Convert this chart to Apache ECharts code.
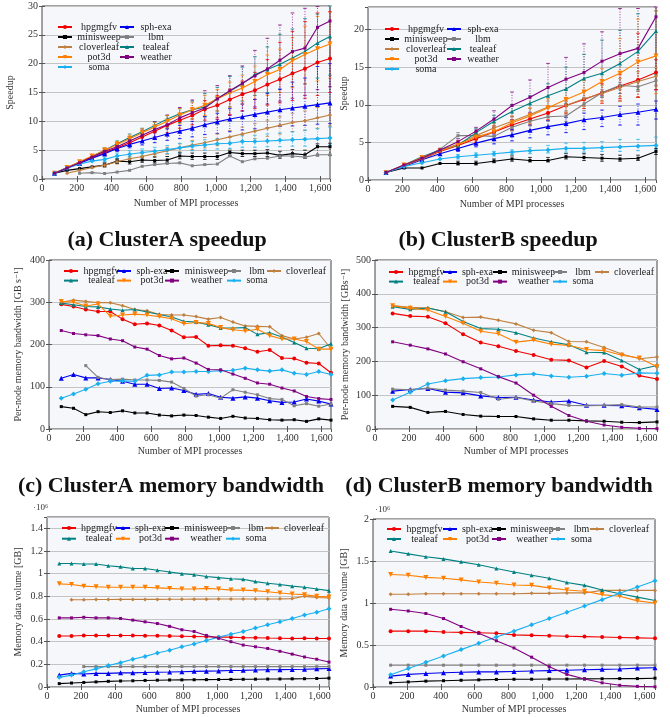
<!DOCTYPE html>
<html><head><meta charset="utf-8">
<script src="https://cdn.jsdelivr.net/npm/echarts@6/dist/echarts.min.js"></script>
<style>html,body{margin:0;padding:0;background:#fff}#c{width:670px;height:717px}</style>
</head><body><div id="c"></div>
<script>
// ---------- data ----------
const xA = [72,144,216,288,360,432,504,576,648,720,792,864,936,1008,1080,1152,1224,1296,1368,1440,1512,1584,1656];
const xB = [104,208,312,416,520,624,728,832,936,1040,1144,1248,1352,1456,1560,1664];
const names = ['hpgmgfv','sph-exa','minisweep','lbm','cloverleaf','tealeaf','pot3d','weather','soma'];

// (a) ClusterA speedup
const spA_hpgmgfv   = [1,1.9,2.8,3.7,4.6,5.4,6.3,7.3,8.3,9.3,10.2,11.0,12.1,12.8,13.8,14.7,15.4,16.4,17.3,18.3,19.1,20.2,20.9];
const spA_sphexa    = [1,1.9,2.7,3.6,4.4,5.3,6.0,6.6,7.2,7.8,8.3,8.8,9.4,9.9,10.4,10.8,11.2,11.6,12.0,12.3,12.6,12.9,13.2];
const spA_minisweep = [1,1.5,1.8,2.1,2.4,3.1,3.0,3.3,3.2,3.3,4.0,3.9,3.9,3.9,4.6,4.4,4.4,4.5,4.1,4.4,4.2,5.6,5.6];
const spA_lbm       = [null,null,1.0,1.1,0.95,1.2,1.5,2.2,2.5,2.7,2.8,2.3,2.5,2.6,4.0,3.0,3.5,3.6,4.0,4.0,3.8,4.2,4.2];
const spA_cloverleaf= [null,1.0,1.5,2.0,2.4,3.0,3.5,3.9,4.4,4.9,5.4,5.9,6.3,6.8,7.3,7.8,8.3,8.8,9.3,9.8,10.1,10.6,11.1];
const spA_tealeaf   = [1,2.0,2.9,3.9,5.0,6.1,7.2,8.2,9.3,10.4,11.3,12.0,12.5,14.0,15.2,16.5,18.1,19.0,19.9,21.0,22.1,23.6,24.7];
const spA_pot3d     = [1,2.0,3.0,4.0,5.0,6.0,7.0,8.0,9.0,10.0,11.1,12.0,12.8,13.9,14.9,15.8,16.9,18.1,19.0,20.5,21.6,22.6,23.4];
const spA_weather   = [1,1.9,2.8,3.8,4.8,5.6,6.6,7.6,8.6,9.4,10.6,11.5,12.3,13.9,15.3,16.6,17.9,19.1,20.6,22.1,22.7,26.3,27.4];
const spA_soma      = [1,1.85,2.6,3.1,3.4,4.0,4.3,4.6,4.8,5.1,5.4,5.7,5.9,6.1,6.2,6.5,6.5,6.6,6.7,6.8,6.9,7.0,7.1];
// (a) error bars (min / max)
const erA_weather_hi   = [null,null,null,null,5.3,6.2,7.3,8.5,9.96,11.1,12.4,13.7,15.3,16.2,17.9,19.6,22.3,24.4,26.7,28.8,29.6,29.9,31];
const erA_weather_lo   = [null,null,null,null,4.3,5.0,5.8,6.5,7.0,7.5,8.2,9.0,9.4,10.3,11.0,11.8,12.5,13.0,13.5,14.0,14.5,15.5,16];
const erA_tealeaf_hi   = [null,null,null,null,5.4,6.6,7.8,8.8,9.9,11.0,12.2,13.5,14.8,15.9,17.8,19.4,21.2,22.9,25.1,26.0,27.8,28.6,30];
const erA_tealeaf_lo   = [null,null,null,null,4.6,5.6,6.5,7.4,8.2,9.0,9.8,10.4,10.8,11.8,12.5,13.5,14.5,15.0,15.5,16.0,16.5,17.5,18];
const erA_pot3d_hi     = [null,null,null,null,5.4,6.5,7.6,8.7,9.8,11.0,12.2,13.3,14.5,15.5,16.8,18.0,19.6,21.5,22.5,24.5,26.5,28.2,29];
const erA_pot3d_lo     = [null,null,null,null,4.6,5.5,6.4,7.2,8.0,8.8,9.6,10.4,11.0,11.8,12.5,13.0,13.8,14.5,15.0,15.8,16.5,17.0,17.5];
const erA_hpgmgfv_hi   = [null,null,null,null,5.0,5.9,6.9,8.0,9.0,10.1,11.2,12.3,13.6,14.5,15.6,17.0,18.5,20.7,23.7,25.6,27.3,28.8,29];
const erA_hpgmgfv_lo   = [null,null,null,null,4.2,4.9,5.7,6.5,7.3,8.0,8.8,9.4,10.2,10.6,11.2,11.8,12.2,12.8,13.2,13.6,14.0,14.5,15.0];
const erA_sphexa_hi    = [null,null,null,null,4.8,5.8,6.7,7.3,8.0,8.7,9.3,10.0,10.8,11.4,12.2,13.0,13.8,14.8,15.6,16.8,17.5,19.5,20];
const erA_sphexa_lo    = [null,null,null,null,4.0,4.8,5.4,5.9,6.3,6.7,7.0,7.3,7.7,7.9,8.2,8.5,8.7,8.9,9.1,9.2,9.3,9.5,9.6];
const erA_cloverleaf_hi= [null,null,null,null,2.7,3.4,3.9,4.4,4.9,5.5,6.1,6.7,7.2,7.8,8.4,9.0,9.6,10.2,10.8,11.4,11.8,12.4,13];
const erA_cloverleaf_lo= [null,null,null,null,2.1,2.6,3.1,3.4,3.9,4.3,4.7,5.1,5.4,5.8,6.2,6.6,7.0,7.4,7.8,8.2,8.4,8.8,9.2];
const erA_soma_hi      = [null,null,null,null,3.8,4.5,4.9,5.2,5.5,5.8,6.2,6.5,6.8,7.0,7.2,7.5,7.6,7.8,8.0,8.2,8.5,8.7,9.0];
const erA_soma_lo      = [null,null,null,null,3.0,3.5,3.8,4.0,4.2,4.4,4.6,4.9,5.0,5.2,5.3,5.5,5.5,5.6,5.6,5.7,5.7,5.8,5.9];
const erA_minisweep_hi = [null,null,null,null,2.8,3.5,3.5,3.8,3.8,3.9,4.5,4.5,4.5,4.5,5.0,5.0,5.0,5.1,4.8,5.1,5.0,6.1,6.2];
const erA_minisweep_lo = [null,null,null,null,2.1,2.7,2.6,2.9,2.8,2.9,3.5,3.4,3.4,3.4,4.1,3.9,3.9,3.9,3.6,3.8,3.6,4.0,4.1];

// (b) ClusterB speedup
const spB_hpgmgfv   = [1,1.9,2.8,3.8,4.6,5.5,6.4,7.3,8.1,8.9,9.9,10.7,11.6,12.5,13.3,14.3];
const spB_sphexa    = [1,1.8,2.7,3.5,4.2,4.9,5.5,6.0,6.6,7.1,7.5,8.0,8.3,8.7,9.0,9.4];
const spB_minisweep = [1,1.6,1.6,2.2,2.2,2.2,2.5,2.8,2.6,2.6,3.1,3.0,2.9,2.8,2.9,3.8];
const spB_lbm       = [1,1.9,2.9,4.1,5.9,5.9,5.8,7.0,7.8,8.4,8.5,10.1,11.6,12.6,12.4,13.2];
const spB_cloverleaf= [1,1.9,2.8,3.9,4.8,5.9,6.9,7.8,8.7,9.7,9.9,10.8,11.5,12.3,13.1,13.8];
const spB_tealeaf   = [1,2.0,3.1,4.0,4.6,6.3,7.8,9.1,10.2,11.2,12.1,13.5,14.2,15.5,17.1,19.8];
const spB_pot3d     = [1,2.0,3.0,3.9,4.7,5.7,6.4,7.6,8.5,9.6,10.7,11.7,13.1,14.2,15.7,16.5];
const spB_weather   = [1,2.0,2.9,4.0,5.1,6.5,8.1,9.9,11.0,12.3,13.4,14.3,15.8,16.8,17.5,21.7];
const spB_soma      = [1,1.8,2.3,2.8,3.1,3.3,3.5,3.7,3.9,4.0,4.2,4.2,4.3,4.4,4.5,4.6];
// (b) error bars (min / max)
const erB_weather_hi   = [null,null,null,null,5.5,7.0,9.2,11.7,13.3,15.5,16.3,18.1,19.7,22.8,22.8,23];
const erB_weather_lo   = [null,null,null,null,4.7,6.0,7.2,8.4,9.0,9.8,10.5,10.8,11.2,10.5,11.0,12.0];
const erB_tealeaf_hi   = [null,null,null,null,5.0,6.8,8.6,10.0,11.2,12.8,15.0,16.7,18.6,19.9,22.1,22.5];
const erB_tealeaf_lo   = [null,null,null,null,4.2,5.8,7.0,8.0,8.8,9.6,10.2,10.8,11.0,11.5,12.0,14.0];
const erB_pot3d_hi     = [null,null,null,null,5.1,6.2,7.2,8.5,9.6,10.8,12.0,13.2,14.8,18.8,21.4,22.5];
const erB_pot3d_lo     = [null,null,null,null,4.3,5.2,5.8,6.8,7.5,8.3,9.0,9.8,10.5,10.5,11.0,11.5];
const erB_hpgmgfv_hi   = [null,null,null,null,5.0,6.0,7.0,8.0,8.8,9.8,10.9,11.8,12.8,14.0,19.5,16.0];
const erB_hpgmgfv_lo   = [null,null,null,null,4.2,5.0,5.8,6.6,7.3,8.0,8.8,9.5,10.2,10.8,11.0,12.0];
const erB_cloverleaf_hi= [null,null,null,null,5.2,6.4,7.5,8.5,9.5,10.5,10.8,11.8,12.6,13.5,14.4,15.0];
const erB_cloverleaf_lo= [null,null,null,null,4.4,5.4,6.3,7.1,7.9,8.8,9.0,9.8,10.5,11.1,11.8,12.5];
const erB_sphexa_hi    = [null,null,null,null,4.6,5.4,6.1,6.7,7.3,7.9,8.3,8.9,9.3,9.8,10.1,10.5];
const erB_sphexa_lo    = [null,null,null,null,3.8,4.4,4.8,5.2,5.6,6.0,6.3,6.7,7.1,7.3,7.3,8.1];
const erB_soma_hi      = [null,null,null,null,3.4,3.6,3.8,4.0,4.3,4.6,4.9,5.0,5.1,5.4,5.4,5.7];
const erB_soma_lo      = [null,null,null,null,2.8,3.0,3.2,3.4,3.5,3.6,3.7,3.7,3.8,3.8,3.9,4.0];
const erB_lbm_hi       = [null,null,null,4.2,6.3,6.3,6.2,7.6,8.4,9.0,9.2,11.0,12.0,13.0,13.0,13.8];
const erB_lbm_lo       = [null,null,null,3.8,5.5,5.5,5.4,6.5,7.2,7.8,7.8,9.2,11.0,12.0,11.8,12.6];
const erB_minisweep_hi = [null,null,null,null,2.5,2.5,2.8,3.2,3.0,3.0,3.5,3.5,3.4,3.3,3.3,4.2];
const erB_minisweep_lo = [null,null,null,null,2.0,2.0,2.3,2.5,2.4,2.4,2.8,2.6,2.5,2.5,2.6,3.4];

// (c) ClusterA per-node memory bandwidth [GB/s]
const bwA_hpgmgfv   = [295,290,283,278,278,260,248,250,245,233,217,218,197,198,197,191,183,187,168,167,157,155,133];
const bwA_sphexa    = [120,129,121,121,117,113,106,106,96,97,91,82,84,75,73,76,73,67,63,64,71,66,59];
const bwA_minisweep = [53,49,34,41,39,43,38,38,33,31,33,32,28,25,30,26,25,22,21,22,18,24,21];
const bwA_lbm       = [null,null,150,122,117,118,116,116,115,111,96,78,81,73,93,87,81,72,70,55,60,54,59];
const bwA_cloverleaf= [300,305,302,299,299,292,283,280,271,270,270,266,260,264,253,244,243,242,221,213,217,226,190];
const bwA_tealeaf   = [298,294,290,289,284,281,283,277,271,265,255,253,247,239,239,240,224,228,218,205,191,190,202];
const bwA_pot3d     = [302,300,291,296,267,270,272,270,266,261,249,252,250,240,235,232,236,221,213,213,207,189,189];
const bwA_weather   = [233,226,223,221,213,209,194,189,174,166,168,156,141,140,130,120,109,106,97,90,77,72,70];
const bwA_soma      = [73,83,94,107,113,114,113,127,128,135,135,136,136,138,139,144,140,137,140,132,129,136,129];

// (d) ClusterB per-node memory bandwidth [GB/s]
const bwB_hpgmgfv   = [342,334,332,313,280,256,245,231,219,205,203,182,201,185,158,148];
const bwB_sphexa    = [112,117,120,109,107,98,93,94,86,80,83,70,70,69,63,58];
const bwB_minisweep = [67,64,49,52,43,38,37,37,30,26,26,24,23,20,19,21];
const bwB_lbm       = [118,116,121,115,112,108,88,93,83,75,70,69,70,72,65,65];
const bwB_cloverleaf= [365,360,358,347,330,331,322,311,292,285,259,258,241,222,208,213];
const bwB_tealeaf   = [362,354,358,347,318,297,295,285,269,258,249,227,226,203,176,188];
const bwB_pot3d     = [365,357,352,333,313,289,282,257,263,251,247,235,232,218,210,184];
const bwB_weather   = [258,248,237,222,199,178,155,136,100,67,40,23,12,5,2,1];
const bwB_soma      = [86,109,133,143,149,152,154,160,163,157,153,156,164,159,166,165];

// (e) ClusterA memory data volume [10^6 GB]
const dvA_hpgmgfv   = [0.45,0.45,0.455,0.455,0.455,0.455,0.455,0.453,0.452,0.45,0.448,0.446,0.444,0.44,0.44,0.435,0.435,0.432,0.43,0.428,0.43,0.428,0.428];
const dvA_sphexa    = [0.105,0.12,0.115,0.12,0.12,0.125,0.125,0.128,0.13,0.132,0.135,0.138,0.14,0.142,0.145,0.147,0.15,0.152,0.153,0.155,0.157,0.16,0.163];
const dvA_minisweep = [0.03,0.035,0.04,0.045,0.05,0.053,0.055,0.058,0.06,0.062,0.063,0.064,0.065,0.066,0.067,0.068,0.069,0.07,0.071,0.072,0.073,0.075,0.078];
const dvA_lbm       = [null,null,0.18,0.18,0.18,0.18,0.18,0.18,0.18,0.18,0.18,0.18,0.18,0.18,0.18,0.18,0.18,0.18,0.18,0.18,0.18,0.18,0.18];
const dvA_cloverleaf= [null,0.77,0.77,0.772,0.772,0.773,0.773,0.773,0.773,0.774,0.774,0.775,0.775,0.776,0.776,0.776,0.777,0.777,0.778,0.78,0.80,0.79,0.785];
const dvA_tealeaf   = [1.09,1.09,1.085,1.085,1.07,1.06,1.045,1.045,1.03,1.015,1.0,0.99,0.975,0.965,0.955,0.95,0.93,0.915,0.905,0.89,0.88,0.865,0.85];
const dvA_pot3d     = [0.91,0.905,0.89,0.885,0.88,0.88,0.88,0.88,0.875,0.87,0.865,0.865,0.87,0.865,0.855,0.855,0.85,0.84,0.83,0.82,0.815,0.8,0.795];
const dvA_weather   = [0.61,0.61,0.615,0.61,0.61,0.605,0.59,0.575,0.56,0.535,0.505,0.49,0.455,0.43,0.40,0.37,0.355,0.34,0.315,0.29,0.265,0.245,0.22];
const dvA_soma      = [0.085,0.105,0.135,0.16,0.19,0.215,0.245,0.27,0.3,0.325,0.355,0.38,0.41,0.44,0.465,0.49,0.52,0.55,0.575,0.605,0.635,0.66,0.69];

// (f) ClusterB memory data volume [10^6 GB]
const dvB_hpgmgfv   = [0.665,0.665,0.665,0.655,0.65,0.645,0.64,0.62,0.615,0.61,0.605,0.6,0.595,0.59,0.585,0.58];
const dvB_sphexa    = [0.13,0.15,0.16,0.17,0.175,0.18,0.18,0.185,0.19,0.195,0.2,0.205,0.21,0.215,0.225,0.23];
const dvB_minisweep = [0.05,0.06,0.07,0.075,0.08,0.085,0.09,0.092,0.093,0.095,0.095,0.097,0.098,0.1,0.1,0.105];
const dvB_lbm       = [0.26,0.26,0.26,0.26,0.26,0.26,0.26,0.26,0.26,0.26,0.26,0.26,0.26,0.26,0.26,0.26];
const dvB_cloverleaf= [1.105,1.105,1.11,1.11,1.11,1.11,1.11,1.11,1.115,1.115,1.12,1.12,1.15,1.15,1.15,1.15];
const dvB_tealeaf   = [1.62,1.585,1.55,1.525,1.49,1.455,1.41,1.37,1.33,1.295,1.245,1.21,1.155,1.11,1.07,1.03];
const dvB_pot3d     = [1.34,1.33,1.305,1.295,1.275,1.25,1.235,1.215,1.21,1.18,1.155,1.14,1.1,1.08,1.025,1.0];
const dvB_weather   = [0.925,0.905,0.875,0.815,0.72,0.64,0.55,0.465,0.355,0.24,0.15,0.095,0.05,0.02,0.008,0.002];
const dvB_soma      = [0.145,0.22,0.295,0.37,0.445,0.52,0.595,0.665,0.74,0.815,0.89,0.965,1.04,1.115,1.19,1.265];

const captions = ['(a) ClusterA speedup','(b) ClusterB speedup','(c) ClusterA memory bandwidth','(d) ClusterB memory bandwidth'];
const yNames = ['Speedup','Speedup','Per-node memory bandwidth [GB s\u207B\u00B9]','Per-node memory bandwidth [GBs\u207B\u00B9]','Memory data volume [GB]','Memory data volume [GB]'];
const xName = 'Number of MPI processes';
const scaleNote = '\u00B710\u2076';

// ---------- styles / layout ----------
const SERIF = '"Liberation Serif","DejaVu Serif",serif';
const style = {
  'hpgmgfv':   {color:'#f00000', symbol:'circle', size:4},
  'sph-exa':   {color:'#0000f0', symbol:'triangle', size:5},
  'minisweep': {color:'#000000', symbol:'rect', size:3},
  'lbm':       {color:'#808080', symbol:'rect', size:3},
  'cloverleaf':{color:'#bf8040', symbol:'diamond', size:4},
  'tealeaf':   {color:'#008080', symbol:'triangle', size:4},
  'pot3d':     {color:'#ff8000', symbol:'triangle', size:5, rotate:180},
  'weather':   {color:'#800080', symbol:'rect', size:3},
  'soma':      {color:'#1ab0f0', symbol:'diamond', size:5}
};
const errA = {
  'weather':[erA_weather_lo,erA_weather_hi], 'tealeaf':[erA_tealeaf_lo,erA_tealeaf_hi], 'pot3d':[erA_pot3d_lo,erA_pot3d_hi],
  'hpgmgfv':[erA_hpgmgfv_lo,erA_hpgmgfv_hi], 'sph-exa':[erA_sphexa_lo,erA_sphexa_hi], 'cloverleaf':[erA_cloverleaf_lo,erA_cloverleaf_hi],
  'soma':[erA_soma_lo,erA_soma_hi], 'minisweep':[erA_minisweep_lo,erA_minisweep_hi]
};
const errB = {
  'weather':[erB_weather_lo,erB_weather_hi], 'tealeaf':[erB_tealeaf_lo,erB_tealeaf_hi], 'pot3d':[erB_pot3d_lo,erB_pot3d_hi],
  'hpgmgfv':[erB_hpgmgfv_lo,erB_hpgmgfv_hi], 'sph-exa':[erB_sphexa_lo,erB_sphexa_hi], 'cloverleaf':[erB_cloverleaf_lo,erB_cloverleaf_hi],
  'soma':[erB_soma_lo,erB_soma_hi], 'lbm':[erB_lbm_lo,erB_lbm_hi], 'minisweep':[erB_minisweep_lo,erB_minisweep_hi]
};
const panels = [
  {x:xA, xmax:1656, ymax:30, yint:5, grid:{left:42,top:6,width:288,height:173}, nameGap:27, xNameGap:19, err:errA,
   ys:[spA_hpgmgfv,spA_sphexa,spA_minisweep,spA_lbm,spA_cloverleaf,spA_tealeaf,spA_pot3d,spA_weather,spA_soma]},
  {x:xB, xmax:1664, ymax:23, yint:5, grid:{left:368,top:7,width:288,height:173}, nameGap:19, xNameGap:19, err:errB,
   ys:[spB_hpgmgfv,spB_sphexa,spB_minisweep,spB_lbm,spB_cloverleaf,spB_tealeaf,spB_pot3d,spB_weather,spB_soma]},
  {x:xA, xmax:1656, ymax:400, yint:100, grid:{left:49,top:260,width:282,height:169}, nameGap:26, xNameGap:17,
   ys:[bwA_hpgmgfv,bwA_sphexa,bwA_minisweep,bwA_lbm,bwA_cloverleaf,bwA_tealeaf,bwA_pot3d,bwA_weather,bwA_soma]},
  {x:xB, xmax:1664, ymax:500, yint:100, grid:{left:375,top:260,width:282,height:169}, nameGap:25, xNameGap:17,
   ys:[bwB_hpgmgfv,bwB_sphexa,bwB_minisweep,bwB_lbm,bwB_cloverleaf,bwB_tealeaf,bwB_pot3d,bwB_weather,bwB_soma]},
  {x:xA, xmax:1656, ymax:1.5, yint:0.2, grid:{left:47,top:517,width:282,height:170}, nameGap:24, xNameGap:17,
   ys:[dvA_hpgmgfv,dvA_sphexa,dvA_minisweep,dvA_lbm,dvA_cloverleaf,dvA_tealeaf,dvA_pot3d,dvA_weather,dvA_soma]},
  {x:xB, xmax:1664, ymax:2, yint:0.5, grid:{left:373,top:519,width:282,height:168}, nameGap:24, xNameGap:17,
   ys:[dvB_hpgmgfv,dvB_sphexa,dvB_minisweep,dvB_lbm,dvB_cloverleaf,dvB_tealeaf,dvB_pot3d,dvB_weather,dvB_soma]}
];
// legend columns: [names, iconLeft, top, textWidth, rowGap]
const IW = 14;
const legendCols = [
  [['hpgmgfv','minisweep','cloverleaf','pot3d','soma'], 57, 22, 44, 0],
  [['sph-exa','lbm','tealeaf','weather'], 119, 22, 34, 0],
  [['hpgmgfv','minisweep','cloverleaf','pot3d','soma'], 384, 24, 44, 0],
  [['sph-exa','lbm','tealeaf','weather'], 446, 24, 34, 0],
  [['hpgmgfv','tealeaf'], 63, 266, 37, -0.4],
  [['sph-exa','pot3d'], 116, 266, 32, -0.4],
  [['minisweep','weather'], 164, 266, 45, -0.4],
  [['lbm','soma'], 226, 266, 22, -0.4],
  [['cloverleaf'], 266, 266, 40, 0],
  [['hpgmgfv','tealeaf'], 388, 267, 37, -0.4],
  [['sph-exa','pot3d'], 442, 267, 31, -0.4],
  [['minisweep','weather'], 492, 267, 43, -0.4],
  [['lbm','soma'], 552, 267, 22, -0.4],
  [['cloverleaf'], 594, 267, 40, 0],
  [['hpgmgfv','tealeaf'], 61, 523, 36, 0.7],
  [['sph-exa','pot3d'], 115, 523, 31, 0.7],
  [['minisweep','weather'], 164, 523, 44, 0.7],
  [['lbm','soma'], 225, 523, 22, 0.7],
  [['cloverleaf'], 264, 523, 40, 0],
  [['hpgmgfv','tealeaf'], 386, 524, 37, 0],
  [['sph-exa','pot3d'], 442, 524, 31, 0],
  [['minisweep','weather'], 491, 524, 42, 0],
  [['lbm','soma'], 550, 524, 23, 0],
  [['cloverleaf'], 589, 524, 40, 0]
];

function errRender(color){
  return function(params, api){
    const cs = params.coordSys;
    const x = api.value(0), lo = api.value(1), hi = api.value(2);
    const p1 = api.coord([x, lo]), p2 = api.coord([x, hi]);
    const top = cs.y, bot = cs.y + cs.height;
    const y1 = Math.min(bot, p1[1]), y2 = Math.max(top, p2[1]);
    const ch = [{type:'line', shape:{x1:p1[0],y1:y1,x2:p1[0],y2:y2}, style:{stroke:color, lineWidth:1, lineDash:[1,1.6], opacity:0.75}}];
    if (p1[1] <= bot) ch.push({type:'line', shape:{x1:p1[0]-1.8,y1:p1[1],x2:p1[0]+1.8,y2:p1[1]}, style:{stroke:color, lineWidth:1, opacity:0.8}});
    if (p2[1] >= top) ch.push({type:'line', shape:{x1:p2[0]-1.8,y1:p2[1],x2:p2[0]+1.8,y2:p2[1]}, style:{stroke:color, lineWidth:1, opacity:0.8}});
    return {type:'group', children:ch};
  };
}

const grid=[], xAxis=[], yAxis=[], series=[], legend=[], title=[];
const axisTxt = {fontFamily:SERIF, fontSize:10, color:'#333'};
panels.forEach((p,k)=>{
  grid.push(Object.assign({show:true, backgroundColor:'#f6f7fa', borderColor:'#444', borderWidth:1}, p.grid));
  const xa = {type:'value', gridIndex:k, min:0, max:p.xmax, interval:200};
  xAxis.push(Object.assign({}, xa, {position:'bottom', name:xName, nameLocation:'middle', nameGap:p.xNameGap,
    nameTextStyle:{fontFamily:SERIF, fontSize:10, color:'#333'},
    axisLine:{show:false}, axisTick:{inside:true, length:3, lineStyle:{color:'#555'}},
    axisLabel:Object.assign({margin:4, showMaxLabel:false, formatter:v=>v.toLocaleString('en-US')}, axisTxt),
    splitLine:{show:false}}));
  xAxis.push(Object.assign({}, xa, {position:'top', axisLine:{show:false}, axisLabel:{show:false},
    axisTick:{inside:true, length:3, lineStyle:{color:'#555'}}, splitLine:{show:false}}));
  const ya = {type:'value', gridIndex:k, min:0, max:p.ymax, interval:p.yint};
  yAxis.push(Object.assign({}, ya, {position:'left', name:yNames[k], nameLocation:'middle', nameGap:p.nameGap,
    nameTextStyle:{fontFamily:SERIF, fontSize:10, color:'#333'},
    axisLine:{show:false}, axisTick:{inside:true, length:3, lineStyle:{color:'#555'}},
    axisLabel:Object.assign({margin:4, showMaxLabel:(p.ymax % p.yint === 0)}, axisTxt),
    splitLine:{show:true, lineStyle:{color:'#c4c4c4', width:1}}}));
  yAxis.push(Object.assign({}, ya, {position:'right', axisLine:{show:false}, axisLabel:{show:false},
    axisTick:{inside:true, length:3, lineStyle:{color:'#555'}}, splitLine:{show:false}}));
  if (p.err) {
    Object.keys(p.err).forEach(n=>{
      const lo = p.err[n][0], hi = p.err[n][1];
      const data = [];
      p.x.forEach((xv,j)=>{ if (lo[j] != null && hi[j] != null) data.push([xv, lo[j], hi[j]]); });
      series.push({type:'custom', name:'err-'+n, xAxisIndex:2*k, yAxisIndex:2*k, data, z:1,
        renderItem:errRender(style[n].color), encode:{x:0, y:[1,2]}, silent:true, animation:false});
    });
  }
  names.forEach((n,i)=>{
    const s = style[n];
    const data = [];
    p.x.forEach((xv,j)=>{ if (p.ys[i][j] != null) data.push([xv, p.ys[i][j]]); });
    series.push({type:'line', name:n, xAxisIndex:2*k, yAxisIndex:2*k, data,
      symbol:s.symbol, symbolSize:s.size, symbolRotate:s.rotate||0, showSymbol:true,
      lineStyle:{color:s.color, width:1.1}, itemStyle:{color:s.color}, animation:false, z:2+(i===7?1:0)});
  });
});
legendCols.forEach(c=>{
  legend.push({orient:'vertical', left:c[1], top:c[2], itemGap:c[4], itemWidth:IW, itemHeight:5, padding:0,
    data:c[0], selectedMode:false,
    formatter:n=>'{t|'+n+'}',
    textStyle:{rich:{t:{width:c[3], align:'center', fontFamily:SERIF, fontSize:10, color:'#222', lineHeight:11}}}});
});
const capPos = [[167,229],[498,229],[171,475],[499,475]];
captions.forEach((t,i)=>{
  title.push({text:t, left:capPos[i][0], top:capPos[i][1], textAlign:'center', padding:0,
    textStyle:{fontFamily:SERIF, fontWeight:'bold', fontSize:22, color:'#111'}});
});
title.push({text:scaleNote, left:33, top:503, padding:0, textStyle:{fontFamily:SERIF, fontSize:9, fontWeight:'normal', color:'#333'}});
title.push({text:scaleNote, left:375, top:505, padding:0, textStyle:{fontFamily:SERIF, fontSize:9, fontWeight:'normal', color:'#333'}});

const chart = echarts.init(document.getElementById('c'), null, {renderer:'canvas'});
chart.setOption({animation:false, backgroundColor:'#fff', grid, xAxis, yAxis, series, legend, title});
</script></body></html>
